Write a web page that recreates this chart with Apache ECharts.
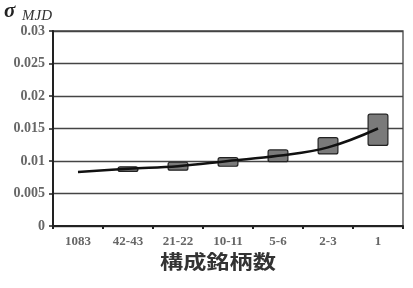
<!DOCTYPE html>
<html><head><meta charset="utf-8">
<script src="https://cdn.jsdelivr.net/npm/echarts@6/dist/echarts.min.js"></script>
<style>html,body{margin:0;padding:0;background:#fff}#c{width:413px;height:288px}</style>
</head><body><div id="c"></div>
<script>
const categories = ['1083','42-43','21-22','10-11','5-6','2-3','1'];
const lineValues = [0.0083, 0.0088, 0.0092, 0.0100, 0.0108, 0.0121, 0.0150];
const boxLow  = [null, 0.0083, 0.0085, 0.0091, 0.0098, 0.0110, 0.0123];
const boxHigh = [null, 0.0092, 0.0099, 0.0106, 0.0118, 0.0137, 0.0173];
const yTicks = [0, 0.005, 0.01, 0.015, 0.02, 0.025, 0.03];

const boxSize = boxHigh.map((h,i)=> h==null ? null : +(h-boxLow[i]).toFixed(5));

const chart = echarts.init(document.getElementById('c'), null, {renderer:'canvas'});
chart.setOption({
  animation:false,
  grid:{left:53,right:10,top:31,bottom:62,show:true,borderColor:'#444',borderWidth:1.3,backgroundColor:'transparent'},
  xAxis:{type:'category',data:categories,boundaryGap:true,
    axisLine:{lineStyle:{color:'#222',width:2}},
    axisTick:{show:true,alignWithLabel:false,length:3,lineStyle:{color:'#222',width:2}},
    axisLabel:{color:'#666',fontFamily:'Liberation Serif',fontSize:13,fontWeight:'bold',margin:9}},
  yAxis:{type:'value',min:yTicks[0],max:yTicks[yTicks.length-1],interval:0.005,
    axisLine:{show:true,lineStyle:{color:'#222',width:2}},
    axisTick:{show:true,length:4,lineStyle:{color:'#222',width:1.5}},
    axisLabel:{color:'#666',fontFamily:'Liberation Serif',fontSize:14,fontWeight:'bold',margin:8,
      formatter:v=>{const t=yTicks.find(x=>Math.abs(x-v)<1e-9);return t===undefined?'':String(t);}},
    splitLine:{show:true,lineStyle:{color:'#444',width:1.3}}},
  series:[
    {type:'bar',stack:'b',data:boxLow,barWidth:21,itemStyle:{color:'transparent'},silent:true,z:2},
    {type:'bar',stack:'b',data:boxSize,barWidth:21,itemStyle:{color:'#7a7a7a',borderColor:'#222',borderWidth:1.2,borderRadius:2},z:2},
    {type:'line',data:lineValues,smooth:0.4,symbol:'none',lineStyle:{color:'#111',width:2.5},z:5}
  ],
  graphic:[
    {type:'text',left:4,top:1,style:{text:'σ',font:'italic bold 21px "Liberation Serif"',fill:'#222'}},
    {type:'text',left:22,top:9,style:{text:'MJD',font:'italic 15px "Liberation Serif"',fill:'#333'}},
    {type:'text',x:160,y:252,scaleX:1.22,style:{text:'構成銘柄数',font:'bold 19px "Noto Sans CJK JP"',fill:'#333'}}
  ]
});
</script></body></html>
